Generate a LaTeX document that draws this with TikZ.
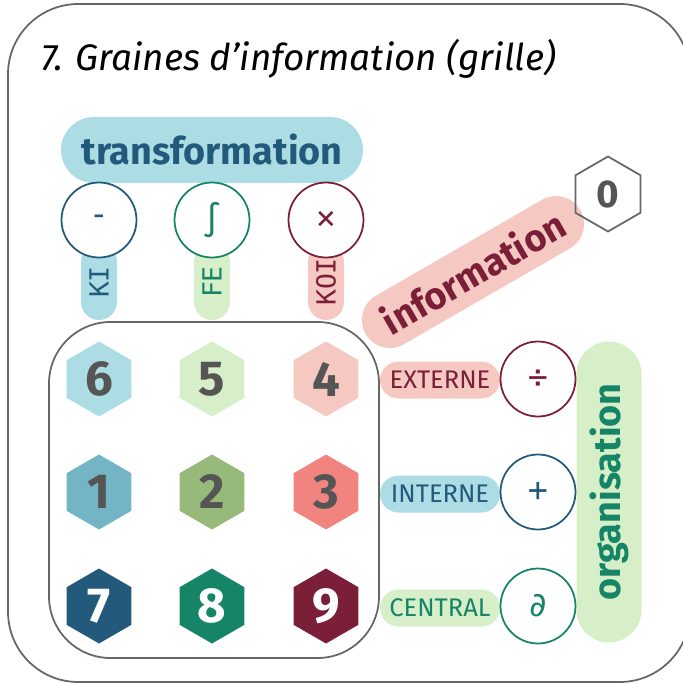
\documentclass[tikz,border=0pt]{standalone}
\usepackage{fontspec}
\setmainfont{Fira Sans}
\newfontfamily\symfont{DejaVu Sans Mono}
\usetikzlibrary{shapes.geometric}
\definecolor{dblue}{HTML}{235A7C}
\definecolor{dgreen}{HTML}{168467}
\definecolor{dred}{HTML}{7B1E37}
\definecolor{lblue}{HTML}{ACDCE4}
\definecolor{lgreen}{HTML}{D6EFC9}
\definecolor{lred}{HTML}{F5C9C1}
\definecolor{mblue}{HTML}{73B4C5}
\definecolor{mgreen}{HTML}{97BA7A}
\definecolor{mred}{HTML}{F28480}
\definecolor{numgray}{HTML}{555555}
\definecolor{framegray}{HTML}{666666}
\begin{document}
\begin{tikzpicture}[x=0.02cm,y=-0.02cm,
  hexa/.style={regular polygon,regular polygon sides=6,shape border rotate=90,
    minimum size=1.5cm,inner sep=0pt,text=numgray,
    font=\bfseries\fontsize{28}{28}\selectfont},
  opcircle/.style={circle,draw,line width=1pt,fill=white,minimum size=1.5cm,
    inner sep=0pt,font=\symfont\fontsize{19}{19}\selectfont},
  keypill/.style={rounded corners=0.36cm,minimum width=1.52cm,minimum height=0.72cm,
    inner sep=0pt,rotate=90,font=\symfont\fontsize{15}{15}\selectfont},
  levelpill/.style={rounded corners=0.37cm,minimum width=2.4cm,minimum height=0.74cm,
    inner sep=0pt,font=\fontsize{14.5}{14.5}\selectfont},
  bigpill/.style={inner sep=0pt,font=\bfseries\fontsize{21.5}{21.5}\selectfont}]
\useasboundingbox (0,0) rectangle (683,683);
% frame and title
\draw[framegray,line width=1pt,rounded corners=40] (8,4) rectangle (690,682);
\node[anchor=base west,font=\itshape\fontsize{21}{21}\selectfont] (title) at (35,70) {7. Graines d’information (grille)};
% transformation
\node[bigpill,fill=lblue,text=dblue,rounded corners=0.66cm,minimum width=6.04cm,minimum height=1.32cm] (transfo) at (212,150) {transformation};
\node[keypill,fill=lblue,text=dblue] (ki) at (99,282) {KI};
\node[keypill,fill=lgreen,text=dgreen] (fe) at (212,282) {FE};
\node[keypill,fill=lred,text=dred] (koi) at (326,282) {KOI};
\node[opcircle,draw=dblue,text=dblue] (moins) at (99,220) {-};
\node[opcircle,draw=dgreen,text=dgreen] (integ) at (212,220) {∫};
\node[opcircle,draw=dred,text=dred] (fois) at (326,220) {×};
% information
\node[bigpill,fill=lred,text=dred,rounded corners=0.56cm,minimum width=4.96cm,minimum height=1.12cm,rotate=30] (info) at (473,272) {information};
\node[hexa,draw=framegray,line width=1pt,font=\bfseries\fontsize{22}{22}\selectfont] (zero) at (608,194) {0};
% grid
\draw[framegray,line width=1pt,rounded corners=35] (49,322) rectangle (379,658);
\node[hexa,fill=lblue] (h6) at (99,379) {6};
\node[hexa,fill=lgreen] (h5) at (212,379) {5};
\node[hexa,fill=lred] (h4) at (326,379) {4};
\node[hexa,fill=mblue] (h1) at (99,492) {1};
\node[hexa,fill=mgreen] (h2) at (212,492) {2};
\node[hexa,fill=mred] (h3) at (326,492) {3};
\node[hexa,fill=dblue,text=white] (h7) at (99,606) {7};
\node[hexa,fill=dgreen,text=white] (h8) at (212,606) {8};
\node[hexa,fill=dred,text=white] (h9) at (326,606) {9};
% organisation
\node[bigpill,fill=lgreen,text=dgreen,rounded corners=0.65cm,minimum width=6.02cm,minimum height=1.3cm,rotate=90] (orga) at (609,492) {organisation};
\node[levelpill,fill=lred,text=dred] (externe) at (440,380) {EXTERNE};
\node[levelpill,fill=lblue,text=dblue] (interne) at (440,494) {INTERNE};
\node[levelpill,fill=lgreen,text=dgreen] (central) at (440,608) {CENTRAL};
\node[opcircle,draw=dred,text=dred] (divise) at (538,379) {÷};
\node[opcircle,draw=dblue,text=dblue] (plus) at (538,492) {+};
\node[opcircle,draw=dgreen,text=dgreen] (partiel) at (538,606) {∂};
\end{tikzpicture}
\end{document}
